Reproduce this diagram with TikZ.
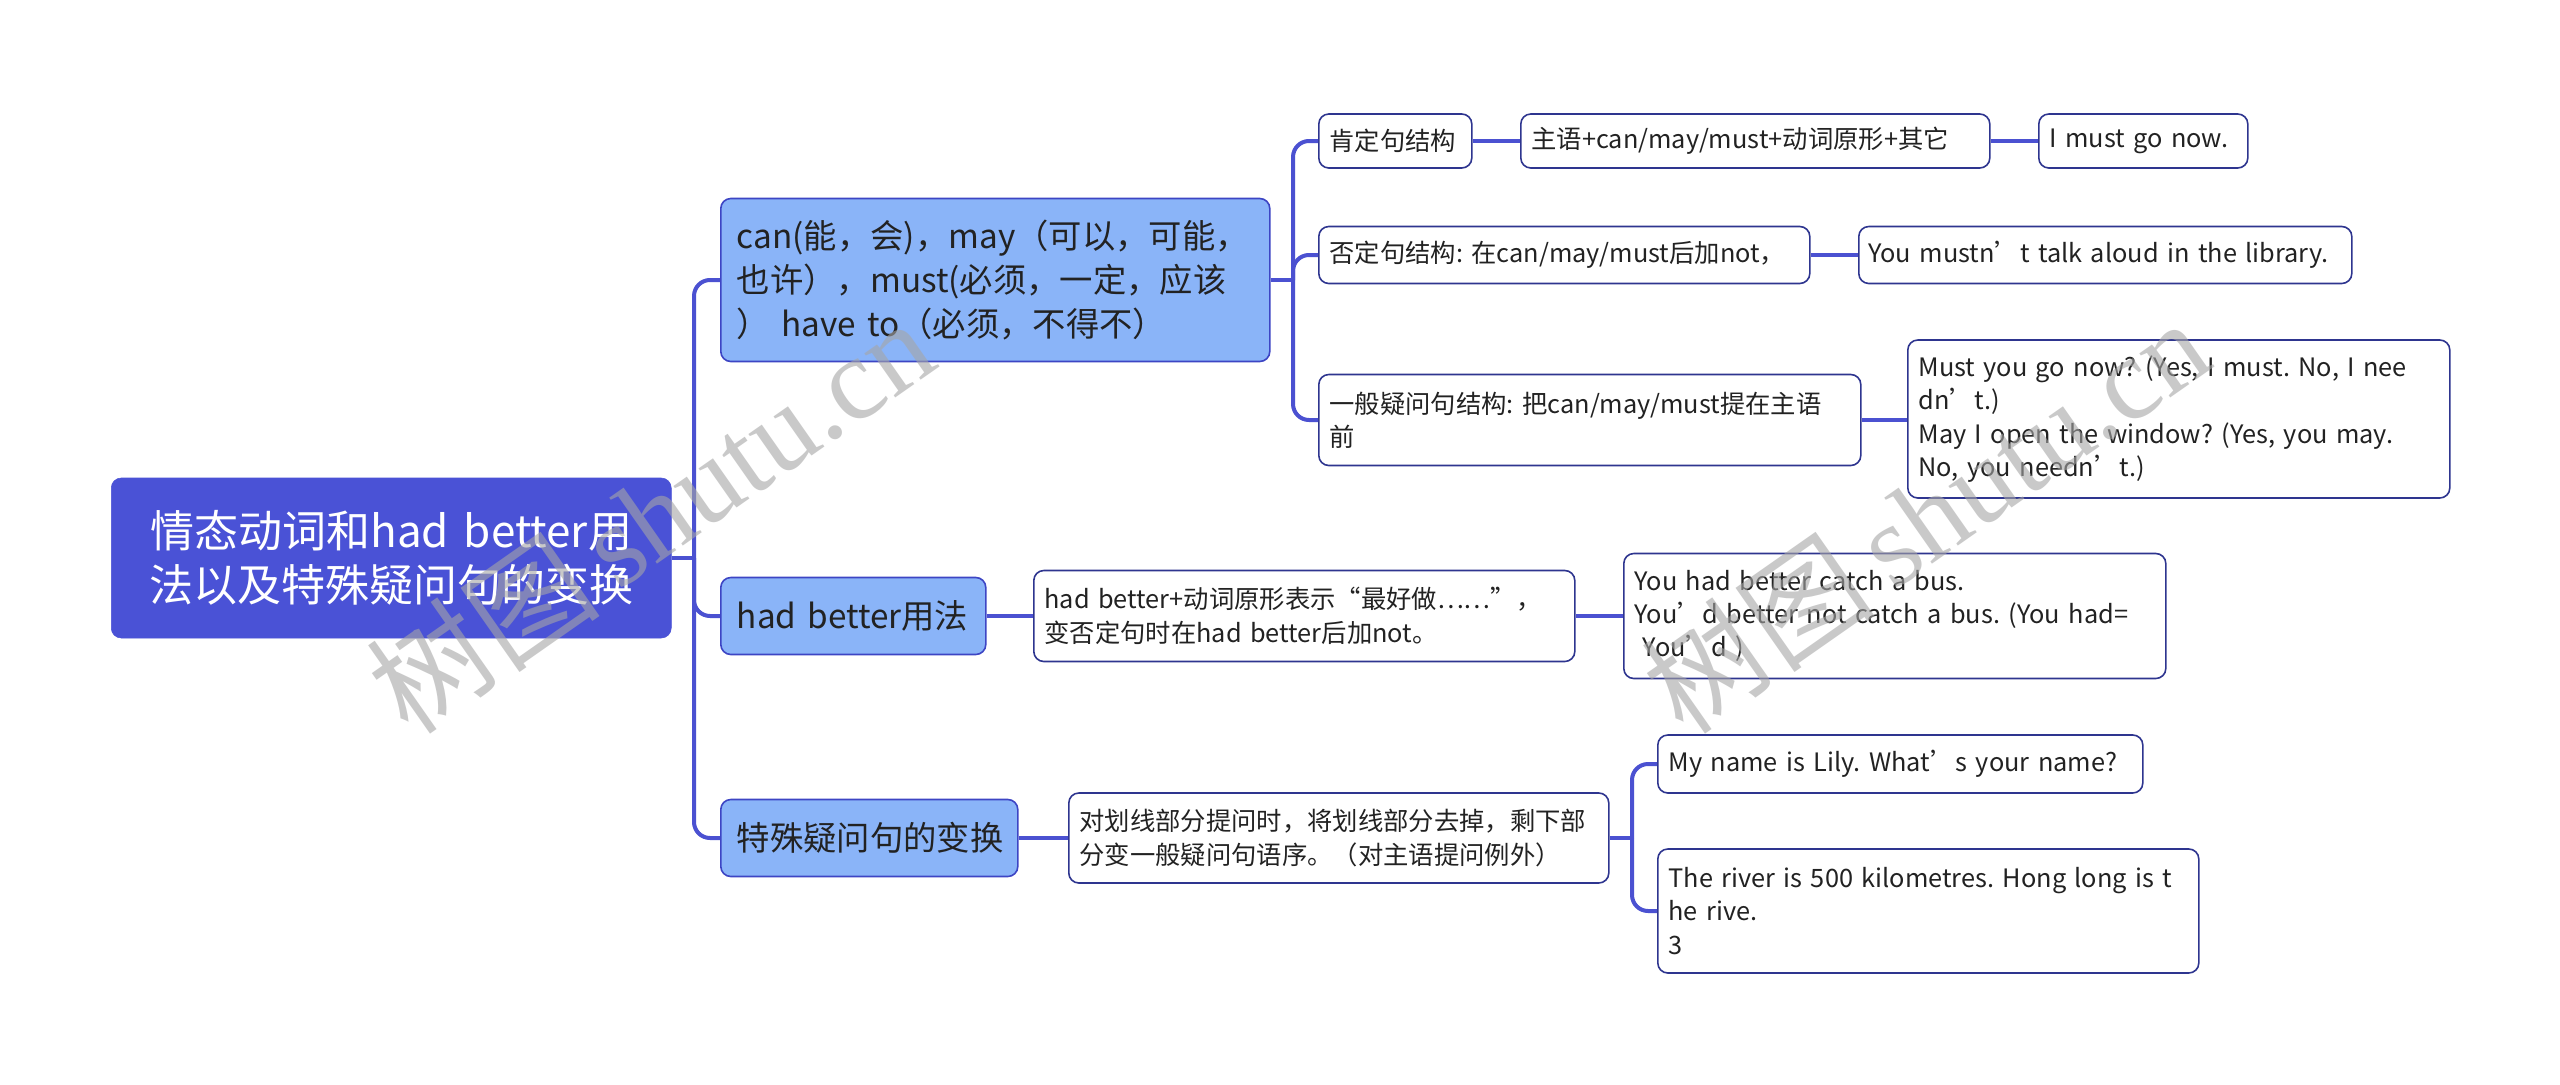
\documentclass[tikz,border=0pt]{standalone}
\usepackage{fontspec}
\setmainfont{Noto Sans CJK SC}
\newfontfamily\wmlat{Liberation Serif}
\frenchspacing
\definecolor{rootfill}{HTML}{4A52D6}
\definecolor{brfill}{HTML}{8AB4F8}
\definecolor{brborder}{HTML}{3D45C4}
\definecolor{leafborder}{HTML}{2E358F}
\definecolor{connblue}{HTML}{4B51D1}
\definecolor{txt}{HTML}{222222}
\tikzset{
  rootbox/.style={draw=rootfill, fill=rootfill, rounded corners=7.5pt, text=white, anchor=west,
    inner xsep=0pt, inner ysep=0pt, align=center, font=\fontsize{33pt}{40.5pt}\selectfont},
  brbox/.style={draw=brborder, line width=1.2pt, fill=brfill, rounded corners=7.5pt, text=txt, anchor=west,
    inner xsep=12pt, inner ysep=0pt, align=left, font=\fontsize{25pt}{33pt}\selectfont},
  leafbox/.style={draw=leafborder, line width=1.2pt, fill=white, rounded corners=7.5pt, text=txt, anchor=west,
    inner xsep=8pt, inner ysep=0pt, align=left, font=\fontsize{19pt}{25pt}\selectfont,
    execute at begin node={\hyphenpenalty=10000\exhyphenpenalty=10000}},
  conn/.style={draw=connblue, line width=3pt, rounded corners=12pt},
  wm/.style={text=black!35, opacity=0.6, rotate=35, font=\fontsize{88pt}{88pt}\selectfont}
}
\begin{document}
\begin{tikzpicture}[x=0.75pt,y=-0.75pt]
\path[use as bounding box, fill=white] (0,0) rectangle (2560,1085);

% root and branches
\node[rootbox, minimum width=420pt, minimum height=120pt, text width=420pt] (root) at (111,558)
  {情态动词和had better用\\法以及特殊疑问句的变换};
\node[brbox, minimum width=411.75pt, minimum height=122.25pt, text width=387.75pt] (br1) at (720,280)
  {can(能，会)，may（可以，可能，\\也许），must(必须，一定，应该\\）\ have to（必须，不得不）};
\node[brbox, minimum width=198.75pt, minimum height=57.75pt, text width=174.75pt] (br2) at (720,616)
  {had better用法};
\node[brbox, minimum width=222.75pt, minimum height=57.75pt, text width=198.75pt] (br3) at (720,838)
  {特殊疑问句的变换};

% branch 1 leaves
\node[leafbox, minimum width=114.75pt, minimum height=40.5pt, text width=98.75pt] (n11) at (1318,141) {肯定句结构};
\node[leafbox, minimum width=351.75pt, minimum height=40.5pt, text width=335.75pt] (n12) at (1520,141) {主语+can/may/must+动词原形+其它};
\node[leafbox, minimum width=156.75pt, minimum height=40.5pt, text width=140.75pt] (n13) at (2038,141) {I must go now.};
\node[leafbox, minimum width=368.25pt, minimum height=42.75pt, text width=352.25pt] (n21) at (1318,255) {否定句结构: 在can/may/must后加not，};
\node[leafbox, minimum width=369.75pt, minimum height=42.75pt, text width=355.75pt, inner xsep=7pt] (n22) at (1858,255) {You mustn’t talk aloud in the library.};
\node[leafbox, minimum width=406.5pt, minimum height=68.25pt, text width=390.5pt] (n31) at (1318,420) {一般疑问句结构: 把can/may/must提在主语\\前};
\node[leafbox, minimum width=406.5pt, minimum height=118.5pt, text width=390.5pt] (n32) at (1907,419)
  {Must you go now? (Yes, I must. No, I nee\\dn’t.)\\May I open the window? (Yes, you may.\\No, you needn’t.)};

% branch 2 leaves
\node[leafbox, minimum width=405.75pt, minimum height=68.25pt, text width=389.75pt] (b2a) at (1033,616)
  {had better+动词原形表示“最好做……”，\\变否定句时在had better后加not。};
\node[leafbox, minimum width=406.5pt, minimum height=93.75pt, text width=390.5pt] (b2b) at (1623,616)
  {You had better catch a bus.\\You’d better not catch a bus. (You had=\\\ You’d )};

% branch 3 leaves
\node[leafbox, minimum width=405pt, minimum height=67.5pt, text width=389pt] (b3a) at (1068,838)
  {对划线部分提问时，将划线部分去掉，剩下部\\分变一般疑问句语序。（对主语提问例外）};
\node[leafbox, minimum width=363.75pt, minimum height=43.5pt, text width=347.75pt] (b3b) at (1657,764)
  {My name is Lily. What’s your name?};
\node[leafbox, minimum width=405.75pt, minimum height=93pt, text width=389.75pt] (b3c) at (1657,911)
  {The river is 500 kilometres. Hong long is t\\he rive.\\3};

% junctions
\coordinate (j0) at (694,558);
\coordinate (j1) at (1293,280);
\coordinate (j2) at (1632,838);

% connectors
\draw[conn] (root.east) -- (j0);
\draw[conn] (j0) |- (br1.west);
\draw[conn] (j0) |- (br2.west);
\draw[conn] (j0) |- (br3.west);
\draw[conn] (br1.east) -- (j1);
\draw[conn] (j1) |- (n11.west);
\draw[conn] (j1) |- (n21.west);
\draw[conn] (j1) |- (n31.west);
\draw[conn] (n11.east) -- (n12.west);
\draw[conn] (n12.east) -- (n13.west);
\draw[conn] (n21.east) -- (n22.west);
\draw[conn] (n31.east) -- (n31.east -| n32.west);
\draw[conn] (br2.east) -- (b2a.west);
\draw[conn] (b2a.east) -- (b2b.west);
\draw[conn] (br3.east) -- (b3a.west);
\draw[conn] (b3a.east) -- (j2);
\draw[conn] (j2) |- (b3b.west);
\draw[conn] (j2) |- (b3c.west);

% watermarks
\node[wm] (wm1) at (650,515) {树图\,{\wmlat shutu.cn}};
\node[wm] (wm2) at (1925,515) {树图\,{\wmlat shutu.cn}};
\end{tikzpicture}
\end{document}
